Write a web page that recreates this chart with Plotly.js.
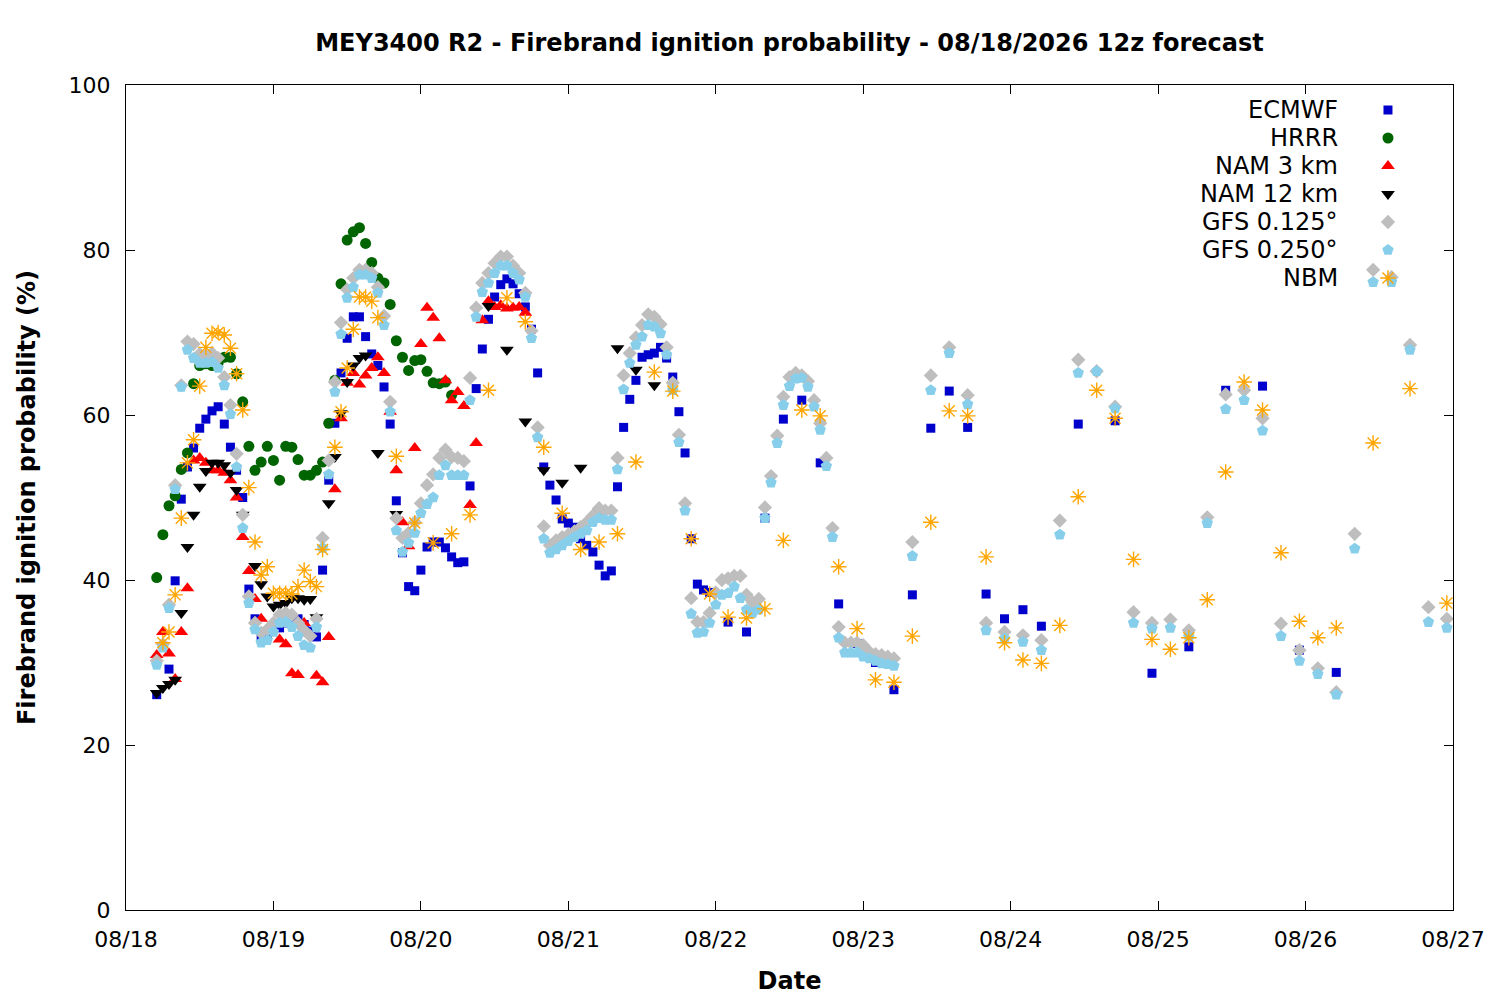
<!DOCTYPE html>
<html>
<head>
<meta charset="utf-8">
<script src="https://cdn.plot.ly/plotly-3.0.1.min.js"></script>
<style>
  html, body { margin: 0; padding: 0; background: #ffffff; }
  #chart { width: 1500px; height: 1000px; }
</style>
</head>
<body>
<div id="chart"></div>
<script>
// x values are hours after 08/18 00:00 local time

const dayTicks = [0, 24, 48, 72, 96, 120, 144, 168, 192, 216];
const dayLabels = ['08/18', '08/19', '08/20', '08/21', '08/22', '08/23', '08/24', '08/25', '08/26', '08/27'];

const ecmwfHours = [5, 7, 8, 9, 10, 11, 12, 13, 14, 15, 16, 17, 18, 19, 20, 21, 22, 23, 24, 25, 26, 27, 28, 29, 30, 31, 32,
    33, 34, 35, 36, 37, 38, 39, 40, 41, 42, 43, 44, 45, 46, 47, 48, 49, 50, 51, 52, 53, 54, 55, 56, 57, 58, 59, 60,
    61, 62, 63, 64, 65, 66, 67, 68, 69, 70, 71, 72, 73, 74, 75, 76, 77, 78, 79, 80, 81, 82, 83, 84, 85, 86, 87, 88,
    89, 90, 91, 92, 93, 94, 95, 98, 101, 104, 107, 110, 113, 116, 119, 122, 125, 128, 131, 134, 137, 140, 143, 146,
    149, 155, 161, 167, 173, 179, 185, 191, 197];
const ecmwfProb = [26.1, 29.2, 39.9, 49.8, 53.7, 56, 58.4, 59.5, 60.5, 61, 58.9, 56.1, 53.3, 50, 38.9, 35.3, 33.1, 33.5,
    34, 34.2, 34.8, 35.3, 35.3, 34.6, 33.8, 33.1, 41.2, 52.1, 59, 65.1, 69.3, 71.9, 71.9, 69.5, 67.4, 66, 63.4, 58.9,
    49.6, 43.3, 39.2, 38.7, 41.2, 44, 44.6, 44.6, 43.9, 42.8, 42.1, 42.2, 51.4, 63.2, 68, 71.6, 74.3, 75.8, 76.5, 75.9,
    74.7, 73.1, 70.4, 65.1, 53.7, 51.5, 49.7, 47.4, 46.9, 46.4, 45, 44.2, 43.4, 41.8, 40.5, 41.1, 51.3, 58.5, 61.9,
    64.2, 67, 67.3, 67.5, 68.2, 66.9, 64.6, 60.4, 55.4, 45, 39.5, 38.8, 38.5, 34.9, 33.7, 47.5, 59.5, 61.8, 54.2, 37.1,
    32.3, 30, 26.7, 38.2, 58.4, 62.9, 58.5, 38.3, 35.3, 36.4, 34.4, 58.9, 59.3, 28.7, 31.9, 63, 63.5, 31.5, 28.8];

const hrrrHours = [5, 6, 7, 8, 9, 10, 11, 12, 13, 14, 15, 16, 17, 18, 19, 20, 21, 22, 23, 24, 25, 26, 27, 28, 29, 30,
    31, 32, 33, 34, 35, 36, 37, 38, 39, 40, 41, 42, 43, 44, 45, 46, 47, 48, 49, 50, 51, 52, 53];
const hrrrProb = [40.3, 45.5, 49, 50.2, 53.4, 55.4, 63.8, 66, 66.2, 66, 66.3, 67, 67, 65, 61.6, 56.2, 53.3, 54.3, 56.2,
    54.5, 52.1, 56.2, 56.1, 54.6, 52.7, 52.7, 53.3, 54.3, 59, 64.2, 75.9, 81.2, 82.2, 82.7, 80.8, 78.5, 76.6, 76, 73.4,
    69, 67, 65.4, 66.6, 66.7, 65.3, 63.9, 63.8, 64, 62.4];

const nam3Hours = [5, 6, 7, 8, 9, 10, 11, 12, 13, 14, 15, 16, 17, 18, 19, 20, 21, 22, 25, 26, 27, 28, 29, 31, 32, 33,
    34, 35, 36, 37, 38, 39, 40, 41, 42, 43, 44, 45, 46, 47, 48, 49, 50, 51, 52, 53, 54, 55, 56, 57, 58, 59, 60, 61,
    62, 63, 64, 65];
const nam3Prob = [30.9, 33.7, 31.1, 28, 33.7, 39, 54.5, 54.8, 54.2, 53.3, 53.3, 53, 52.1, 50, 45.2, 41.1, 37.7, 35.3,
    32.8, 32.2, 28.7, 28.5, 34.8, 28.4, 27.6, 33.1, 51, 59.6, 63.9, 65.1, 63.7, 64.8, 65.7, 67, 65.1, 60.4, 53.3, 47,
    44.1, 56, 68.6, 73, 71.8, 69.3, 64.2, 61.8, 62.8, 61.1, 49.1, 56.6, 71.5, 73.8, 73.1, 73.3, 72.9, 73, 73.1, 72.4];

const nam12Hours = [5, 6, 7, 8, 9, 10, 11, 12, 13, 14, 15, 16, 17, 18, 19, 21, 22, 23, 24, 25, 26, 27, 28, 29, 30, 31,
    33, 34, 35, 36, 37, 38, 39, 41, 44, 59, 62, 65, 68, 71, 74, 77, 80, 83, 86];
const nam12Prob = [26.3, 26.9, 27.4, 27.9, 36, 44, 47.9, 51.3, 53.2, 54.2, 54.2, 53.9, 53, 50.9, 47.9, 41.7, 39.5, 38,
    36.8, 37, 37.2, 37.8, 37.8, 37.6, 37.7, 35.5, 49.3, 54.9, 60.2, 64, 66, 66.9, 67.2, 55.4, 48, 73.2, 67.9, 59.2,
    53.3, 51.8, 53.6, 48.2, 68.1, 65.5, 63.6];

// GFS: hourly to 125, then every 3 hours
const gfsHours = [5, 6, 7, 8, 9, 10, 11, 12, 13, 14, 15, 16, 17, 18, 19, 20, 21, 22, 23, 24, 25, 26, 27, 28, 29, 30,
    31, 32, 33, 34, 35, 36, 37, 38, 39, 40, 41, 42, 43, 44, 45, 46, 47, 48, 49, 50, 51, 52, 53, 54, 55, 56, 57, 58,
    59, 60, 61, 62, 63, 64, 65, 66, 67, 68, 69, 70, 71, 72, 73, 74, 75, 76, 77, 78, 79, 80, 81, 82, 83, 84, 85, 86,
    87, 88, 89, 90, 91, 92, 93, 94, 95, 96, 97, 98, 99, 100, 101, 102, 103, 104, 105, 106, 107, 108, 109, 110, 111,
    112, 113, 114, 115, 116, 117, 118, 119, 120, 121, 122, 123, 124, 125, 128, 131, 134, 137, 140, 143, 146, 149,
    152, 155, 158, 161, 164, 167, 170, 173, 176, 179, 182, 185, 188, 191, 194, 197, 200, 203, 206, 209, 212, 215];
const gfs125Prob = [30.2, 32.2, 37, 51.5, 63.6, 68.9, 68.6, 67.4, 67.2, 67.5, 66.9, 64.6, 61.2, 55.3, 47.9, 38, 34.8,
    33.6, 34, 34.8, 35.8, 36, 35.8, 34.8, 33.9, 33.2, 35.3, 45.1, 54.5, 64, 71.2, 75.2, 76.6, 77.6, 77.6, 77.2, 75.5,
    72, 61.6, 47.5, 45.1, 45.7, 47, 49.3, 51.5, 52.8, 54.8, 55.8, 54.9, 54.8, 54.4, 64.5, 73, 76, 77.2, 78.4, 79.2,
    79.2, 78.1, 77.2, 74.8, 70.2, 58.5, 46.5, 44.2, 44.8, 45.2, 45.5, 45.9, 46.4, 47, 47.8, 48.7, 48.4, 48.4, 54.8,
    64.8, 67.5, 69.4, 70.9, 72.2, 71.9, 71, 68.2, 63.9, 57.6, 49.3, 37.8, 34.9, 34.9, 36, 38.5, 40, 40.2, 40.5, 40.5,
    38.2, 37.3, 37.7, 48.8, 52.6, 57.5, 62.2, 64.6, 65.1, 64.8, 64.1, 61.8, 59, 54.8, 46.3, 34.3, 32.4, 32.4, 32.4,
    32.1, 31.3, 31, 30.9, 30.7, 30.5, 44.6, 64.8, 68.2, 62.4, 34.8, 33.7, 33.3, 32.7, 47.2, 66.7, 65.3, 61, 36.1,
    34.8, 35.2, 33.9, 47.6, 62.5, 63, 59.6, 34.7, 31.5, 29.3, 26.4, 45.6, 77.6, 76.7, 68.5, 36.7, 35.3];
const gfs250Prob = [29.7, 31.8, 36.6, 51, 63.4, 67.9, 66.9, 66.3, 66.3, 66.4, 65.7, 63.6, 60.1, 53.7, 46.3, 37.2, 34,
    32.4, 32.7, 33.7, 34.8, 34.9, 34.3, 33.2, 32.1, 31.8, 34.3, 43.9, 52.8, 62.8, 69.8, 74.2, 75.5, 77, 77, 76.6, 74.8,
    70.9, 60.4, 46, 43.4, 44.5, 45.7, 48.1, 49.2, 50, 52.7, 53.9, 52.7, 52.7, 52.7, 61.8, 71.9, 74.9, 76, 77.2, 78.1,
    78.1, 77.2, 76.4, 74.3, 69.3, 57.3, 45, 43.3, 43.7, 44.2, 44.7, 45.2, 45.6, 46, 47, 47.5, 47.3, 47.3, 53.4, 63.1,
    66.3, 68.5, 69.5, 70.9, 70.7, 69.9, 67.3, 63, 56.7, 48.4, 35.9, 33.6, 33.7, 34.8, 37, 38.2, 38.4, 39.2, 37.8, 36.4,
    36, 36.4, 47.5, 51.8, 56.6, 61.2, 63.5, 64.4, 64.5, 63.4, 61, 58.2, 53.8, 45.2, 33, 31.2, 31.2, 31.2, 30.7, 30.5,
    30.2, 29.9, 29.8, 29.6, 42.9, 63, 67.5, 61.3, 33.9, 32.9, 32.5, 31.5, 45.5, 65.1, 65.3, 60.8, 34.8, 34.1, 34.2,
    33.1, 46.9, 60.7, 61.8, 58.1, 33.2, 30.2, 28.6, 26.1, 43.8, 76.1, 76.1, 67.9, 34.9, 34.2];

const nbmHours = [6, 7, 8, 9, 10, 11, 12, 13, 14, 15, 16, 17, 18, 19, 20, 21, 22, 23, 24, 25, 26, 27, 28, 29, 30, 31,
    32, 34, 35, 36, 37, 38, 39, 40, 41, 44, 47, 50, 53, 56, 59, 62, 65, 68, 71, 74, 77, 80, 83, 86, 89, 92, 95, 98,
    101, 104, 107, 110, 113, 116, 119, 122, 125, 128, 131, 134, 137, 140, 143, 146, 149, 152, 155, 158, 161, 164,
    167, 170, 173, 176, 179, 182, 185, 188, 191, 194, 197, 203, 209, 215];
const nbmProb = [32.4, 33.7, 38.2, 47.5, 54.2, 57, 63.5, 68.2, 69.9, 70, 69.7, 68.1, 65, 60.6, 51.2, 44.6, 40.6, 41.6,
    38.4, 38.4, 38.4, 38.3, 39.2, 41.2, 39.8, 39.2, 43.7, 56.1, 60.4, 65.7, 70.4, 74.3, 74.3, 73.8, 71.8, 55, 46.9,
    44.5, 45.6, 47.9, 63, 74.2, 71.3, 56.1, 48.1, 43.7, 44.6, 45.6, 54.3, 65.2, 62.9, 45, 38.3, 35.5, 35.4, 36.5,
    44.8, 60.6, 59.9, 41.6, 34.1, 27.9, 27.6, 33.2, 47, 60.5, 59.9, 42.8, 32.4, 30.3, 29.9, 34.5, 50.1, 63, 59.6,
    42.5, 32.8, 31.6, 33, 37.6, 53.1, 64, 60.6, 43.3, 35, 33, 34.2, 56.6, 63.2, 37.2];

const modelNames = ['ECMWF', 'HRRR', 'NAM 3 km', 'NAM 12 km', 'GFS 0.125°', 'GFS 0.250°', 'NBM'];

const FONT = 'DejaVu Sans, Liberation Sans, sans-serif';

// marker look per model, same order as modelNames
const styles = [
    { symbol: 'square', color: '#0000cc', size: 9 },
    { symbol: 'circle', color: '#006400', size: 11 },
    { symbol: 'triangle-up', color: '#ff0000', size: 12 },
    { symbol: 'triangle-down', color: '#000000', size: 12 },
    { symbol: 'diamond', color: '#bebebe', size: 11 },
    { symbol: 'pentagon', color: '#87ceeb', size: 12 },
    { symbol: 'asterisk-open', color: '#ffa500', size: 13 }
];

function markerFor(st) {
    if (st.symbol === 'asterisk-open') {
        return { symbol: st.symbol, size: st.size, color: st.color, line: { color: st.color, width: 1.4 } };
    }
    return { symbol: st.symbol, size: st.size, color: st.color, line: { width: 0 } };
}

const seriesX = [ecmwfHours, hrrrHours, nam3Hours, nam12Hours, gfsHours, gfsHours, nbmHours];
const seriesY = [ecmwfProb, hrrrProb, nam3Prob, nam12Prob, gfs125Prob, gfs250Prob, nbmProb];

const data = [];
modelNames.forEach((name, i) => {
    data.push({
        type: 'scatter',
        mode: 'markers',
        name: name,
        x: seriesX[i],
        y: seriesY[i],
        marker: markerFor(styles[i]),
        showlegend: false,
        hoverinfo: 'x+y+name'
    });
});

// gnuplot-style key: text right aligned, symbol to the right of it
const keyTextX = 0.9149;
const keySymX = 0.951;
const keyTopY = 0.9697;
const keyStep = 0.03394;

const annotations = [];
modelNames.forEach((name, i) => {
    const yk = keyTopY - i * keyStep;
    data.push({
        type: 'scatter',
        mode: 'markers',
        x: [keySymX],
        y: [yk],
        xaxis: 'x2',
        yaxis: 'y2',
        marker: markerFor(styles[i]),
        showlegend: false,
        hoverinfo: 'skip'
    });
    annotations.push({
        text: name,
        xref: 'paper', yref: 'paper',
        x: keyTextX, y: yk,
        xanchor: 'right', yanchor: 'middle',
        showarrow: false,
        font: { family: FONT, size: 24, color: '#000000' }
    });
});

const axisCommon = {
    showline: true,
    linecolor: '#000000',
    linewidth: 1,
    mirror: 'ticks',
    ticks: 'inside',
    ticklen: 9,
    tickwidth: 1,
    tickcolor: '#000000',
    showgrid: false,
    zeroline: false,
    tickfont: { family: FONT, size: 22, color: '#000000' }
};

const layout = {
    width: 1500,
    height: 1000,
    margin: { l: 126, r: 47, t: 85, b: 90 },
    paper_bgcolor: '#ffffff',
    plot_bgcolor: '#ffffff',
    showlegend: false,
    title: {
        text: '<b>MEY3400 R2 - Firebrand ignition probability - 08/18/2026 12z forecast</b>',
        font: { family: FONT, size: 24, color: '#000000' },
        xref: 'paper', x: 0.5, xanchor: 'center',
        yref: 'container', y: 0.957, yanchor: 'middle'
    },
    xaxis: Object.assign({}, axisCommon, {
        range: [0, 216],
        tickmode: 'array',
        tickvals: dayTicks,
        ticktext: dayLabels,
        ticklabelstandoff: 10,
        title: { text: '<b>Date</b>', font: { family: FONT, size: 24, color: '#000000' }, standoff: 20 }
    }),
    yaxis: Object.assign({}, axisCommon, {
        range: [0, 100],
        dtick: 20,
        ticklabelstandoff: 10,
        title: { text: '<b>Firebrand ignition probability (%)</b>', font: { family: FONT, size: 24, color: '#000000' }, standoff: 26 }
    }),
    xaxis2: { overlaying: 'x', range: [0, 1], visible: false, fixedrange: true },
    yaxis2: { overlaying: 'y', range: [0, 1], visible: false, fixedrange: true },
    annotations: annotations
};

Plotly.newPlot('chart', data, layout, { displayModeBar: false, staticPlot: true });
</script>
</body>
</html>
